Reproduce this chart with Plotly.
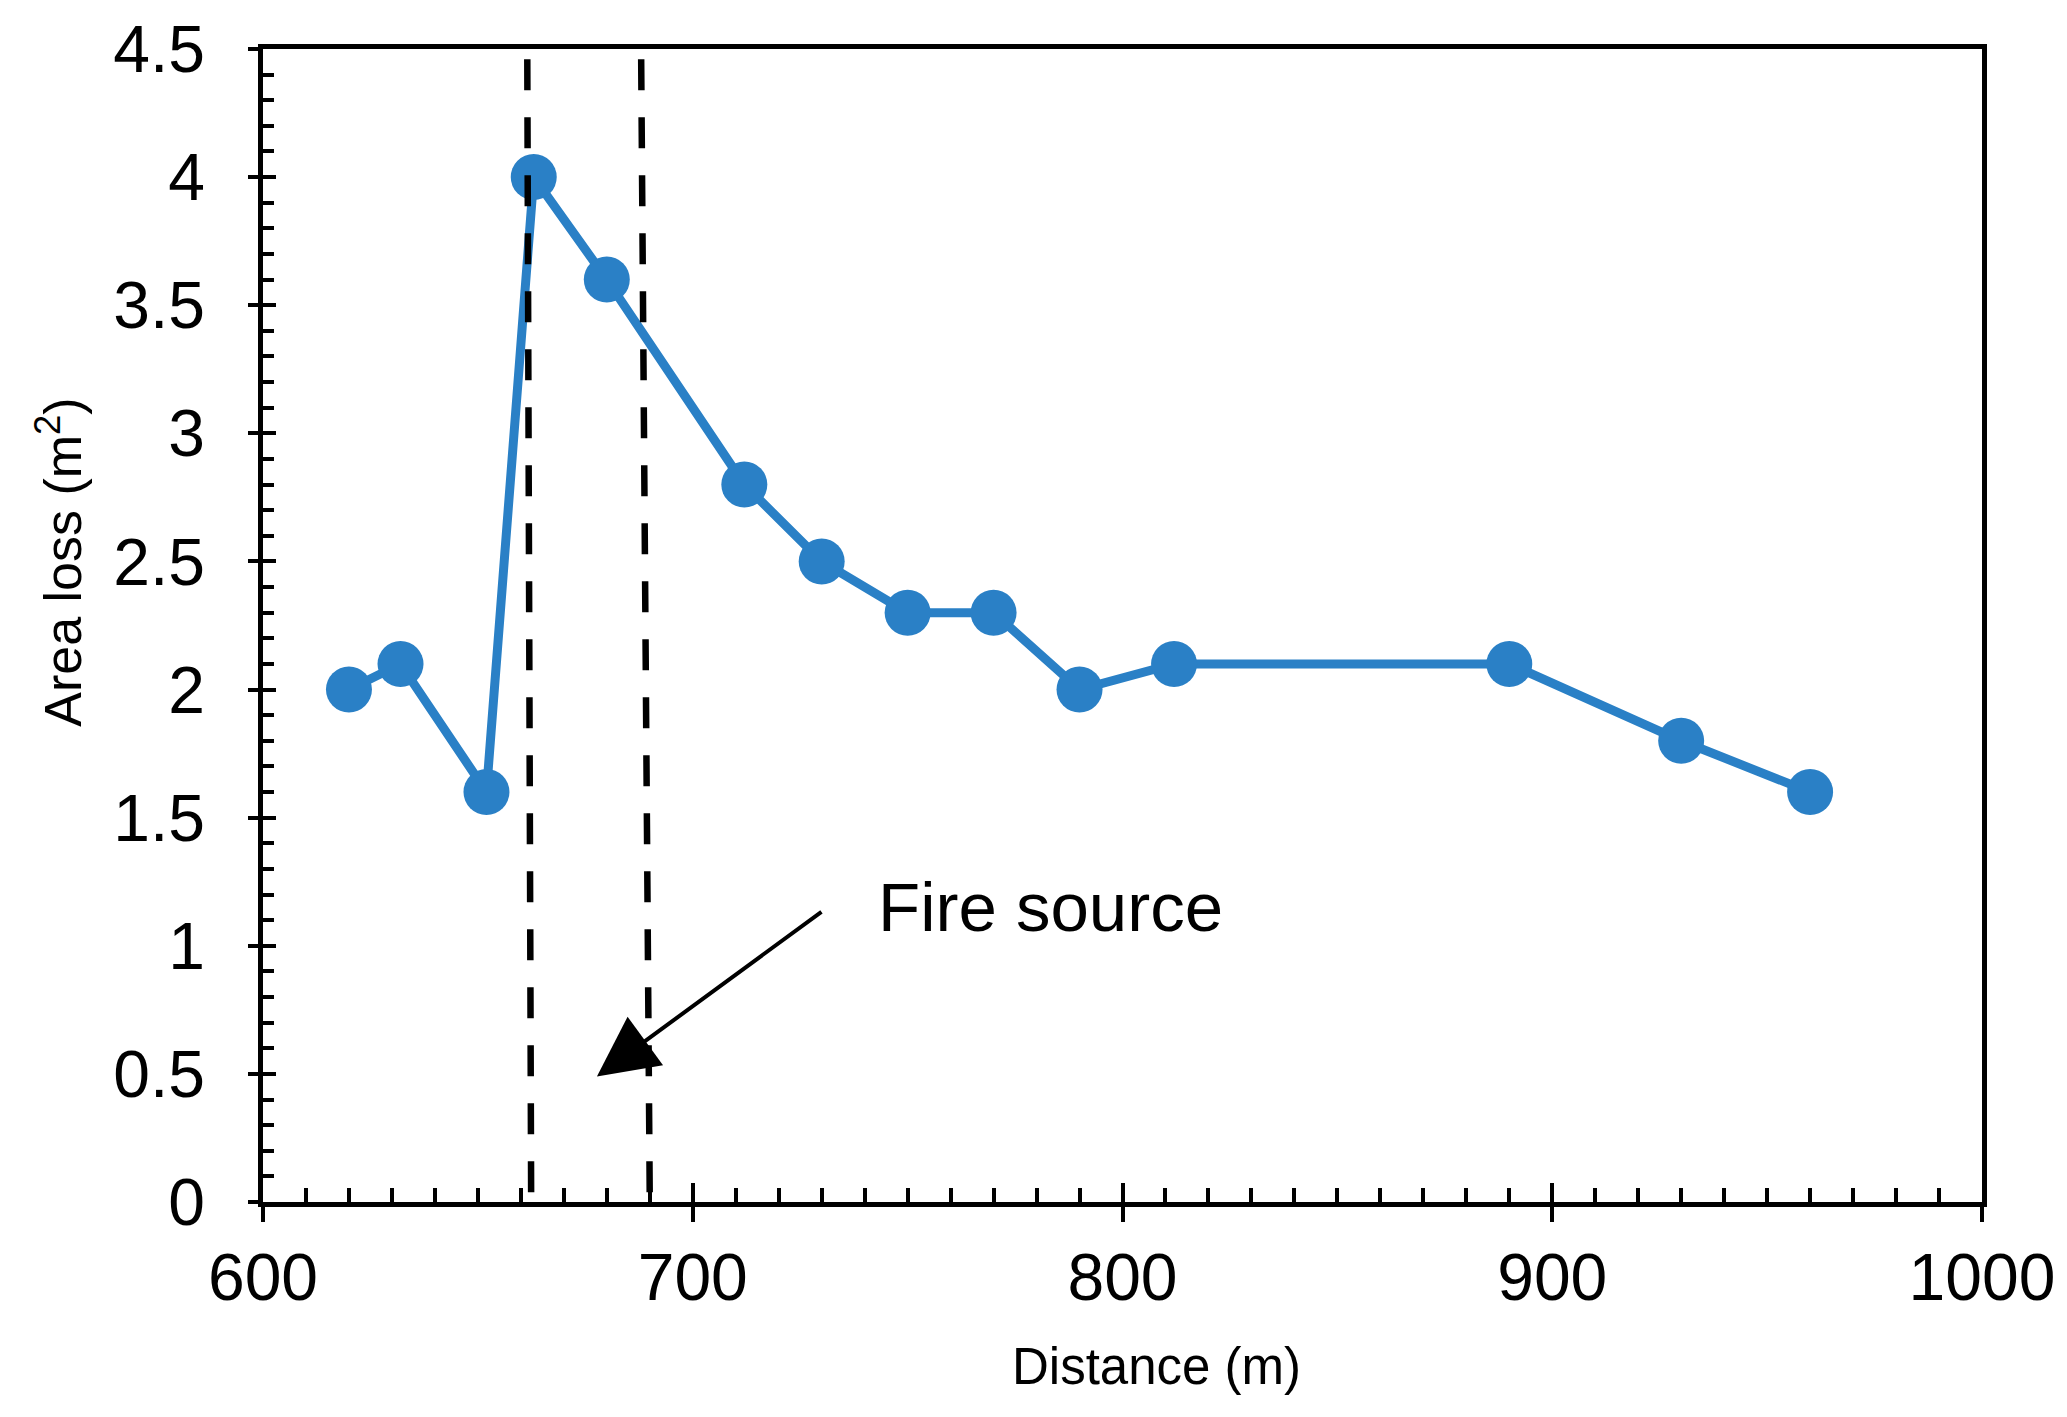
import plotly.graph_objects as go

# Data
distance = [620, 632, 652, 663, 680, 712, 730, 750, 770, 790, 812, 890, 930, 960]
area_loss = [2.0, 2.1, 1.6, 4.0, 3.6, 2.8, 2.5, 2.3, 2.3, 2.0, 2.1, 2.1, 1.8, 1.6]

fire_lines_top = [661.5, 688.0]
fire_lines_bottom = [662.4, 690.0]
fire_y_range = [0.0, 4.46]

x_ticks = [600, 700, 800, 900, 1000]
y_ticks = [0, 0.5, 1, 1.5, 2, 2.5, 3, 3.5, 4, 4.5]
y_tick_text = ["0", "0.5", "1", "1.5", "2", "2.5", "3", "3.5", "4", "4.5"]

W, H = 2067, 1417
L, R, T, B = 263, 80, 43, 215
FONT = "Liberation Sans, Arial, sans-serif"
BLUE = "#2a80c6"

fig = go.Figure()

fig.add_trace(go.Scatter(
    x=distance, y=area_loss, mode="lines+markers",
    line=dict(color=BLUE, width=9),
    marker=dict(color=BLUE, size=46),
    showlegend=False, hoverinfo="skip",
))

for xt, xb in zip(fire_lines_top, fire_lines_bottom):
    fig.add_shape(type="line", xref="x", yref="y",
                  x0=xt, y0=fire_y_range[1], x1=xb, y1=fire_y_range[0],
                  line=dict(color="black", width=6.5, dash="31px,27px"),
                  layer="above")

# Arrow pointing to the fire source zone
fig.add_annotation(x=677.7, y=0.49, ax=730.3, ay=1.137,
                   xref="x", yref="y", axref="x", ayref="y",
                   text="", showarrow=True, arrowhead=2, arrowsize=3.0,
                   arrowwidth=4, arrowcolor="black")

fig.add_annotation(x=742.6, y=1.15, xref="x", yref="y",
                   text="Fire source", showarrow=False,
                   xanchor="left", yanchor="middle",
                   font=dict(family=FONT, size=69, color="black"))

# Axis titles
fig.add_annotation(x=807.8, y=-0.143, xref="x", yref="paper",
                   text="Distance (m)", showarrow=False,
                   xanchor="center", yanchor="middle",
                   font=dict(family=FONT, size=51, color="black"))
fig.add_annotation(x=-0.1183, y=0.555, xref="paper", yref="paper",
                   text="Area loss (m<sup>2</sup>)", showarrow=False,
                   textangle=-90, xanchor="center", yanchor="middle",
                   font=dict(family=FONT, size=52, color="black"))

axis_common = dict(showgrid=False, zeroline=False, linecolor="black",
                   linewidth=4.5, tickcolor="black", tickwidth=4,
                   ticklabeloverflow="allow",
                   tickfont=dict(family=FONT, size=66, color="black"))

fig.update_layout(
    width=W, height=H, autosize=False,
    margin=dict(l=L, r=R, t=T, b=B, pad=0),
    plot_bgcolor="white", paper_bgcolor="white",
    xaxis=dict(range=[600, 1000], tickmode="array", tickvals=x_ticks,
               ticktext=[str(v) for v in x_ticks],
               ticks="inside", ticklen=19, mirror=True, showline=True,
               ticklabelstandoff=14,
               minor=dict(dtick=10, tick0=600, ticks="inside", ticklen=14,
                          tickwidth=3.5, tickcolor="black"),
               **axis_common),
    yaxis=dict(range=[0, 4.5], tickmode="array", tickvals=y_ticks,
               ticktext=y_tick_text,
               ticks="inside", ticklen=13, mirror=True, showline=True,
               ticklabelstandoff=40,
               minor=dict(dtick=0.1, tick0=0, ticks="inside", ticklen=11,
                          tickwidth=3.5, tickcolor="black"),
               **axis_common),
    xaxis2=dict(range=[600, 1000], overlaying="x", anchor="y", side="bottom",
                tickmode="array", tickvals=x_ticks, ticks="outside", ticklen=19,
                tickwidth=4, tickcolor="black", showticklabels=False,
                showline=False, showgrid=False, zeroline=False),
    yaxis2=dict(range=[0, 4.5], overlaying="y", anchor="x", side="left",
                tickmode="array", tickvals=y_ticks, ticks="outside", ticklen=14,
                tickwidth=4, tickcolor="black", showticklabels=False,
                showline=False, showgrid=False, zeroline=False),
)

# invisible trace to activate secondary axes
fig.add_trace(go.Scatter(x=[None], y=[None], xaxis="x2", yaxis="y2",
                         showlegend=False, hoverinfo="skip"))

fig.write_html("out.html",
               config={"displayModeBar": False},
               post_script="document.body.style.margin='0';"
                           "document.body.style.overflow='hidden';")
